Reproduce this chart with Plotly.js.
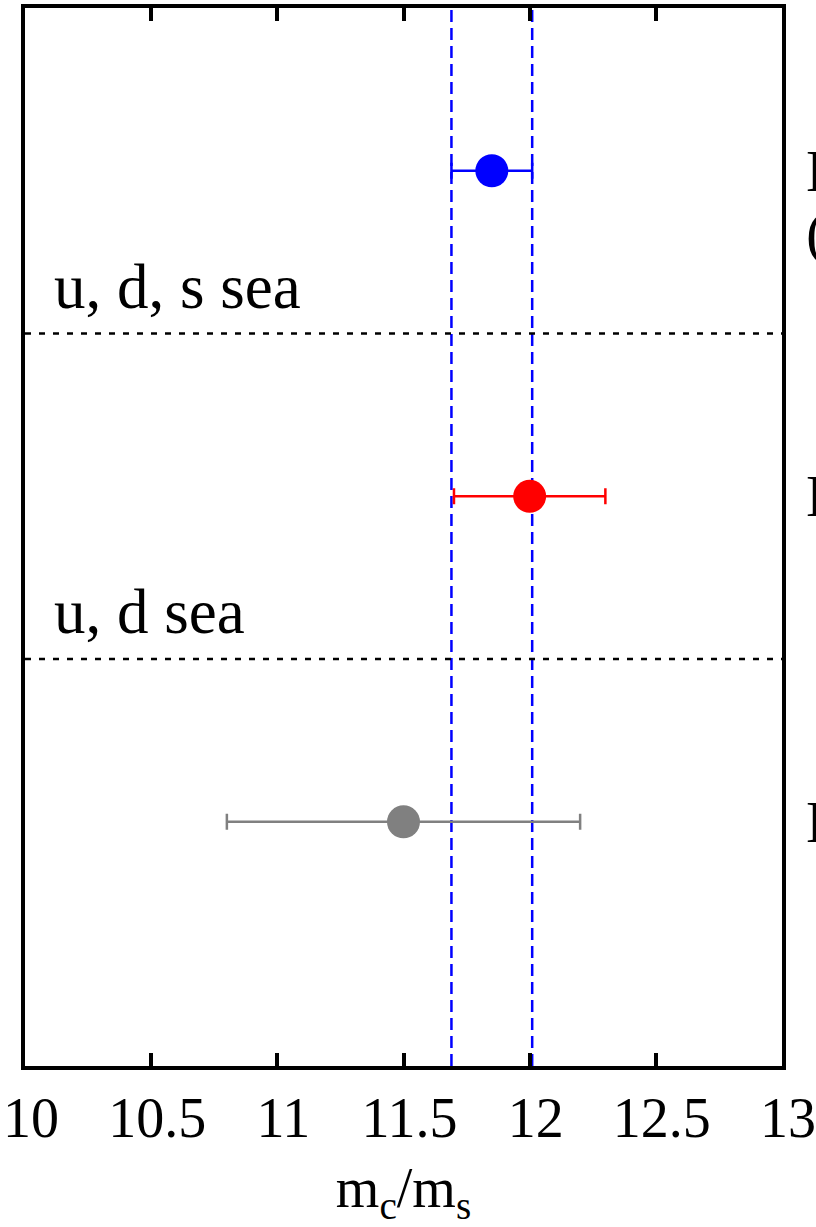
<!DOCTYPE html>
<html>
<head>
<meta charset="utf-8">
<script src="https://cdn.plot.ly/plotly-3.0.1.min.js"></script>
<style>
  html, body { margin: 0; padding: 0; background: #fff; overflow: hidden; }
  #chart { width: 816px; height: 1227px; }
</style>
</head>
<body>
<div id="chart"></div>
<script>
// m_c/m_s determinations, one row each (top to bottom)
const labels    = ["HPQCD", "HPQCD 08", "ETMC 09"];
const subLabels = ["(this paper)", "", ""];
const rows      = [3, 2, 1];
const values    = [11.85, 12.0, 11.5];
const errMinus  = [0.16, 0.30, 0.70];
const errPlus   = [0.16, 0.30, 0.70];
const colors    = ["#0000ff", "#ff0000", "#808080"];

// sea-quark content separators and their captions
const sepRows     = [2.5, 1.5];
const sepCaptions = ["u, d, s sea", "u, d sea"];

// x axis ticks
const tickVals = [10, 10.5, 11, 11.5, 12, 12.5, 13];
const tickText = ["10", "10.5", "11", "11.5", "12", "12.5", "13"];

const xRange = [10, 13];
const yRange = [0.25, 3.5];
const FONT = "Liberation Serif, Times New Roman, serif";

const traces = [];

// band edges of the top result, drawn as dashed verticals
const bandEdges = [values[0] - errMinus[0], values[0] + errPlus[0]];
bandEdges.forEach(v => {
  traces.push({
    x: [v, v], y: yRange, mode: "lines", hoverinfo: "skip", showlegend: false,
    line: {color: "#0000ff", width: 2.5, dash: "12px,6px"}
  });
});

// horizontal dotted separators
sepRows.forEach(r => {
  traces.push({
    x: xRange, y: [r, r], mode: "lines", hoverinfo: "skip", showlegend: false,
    line: {color: "#000000", width: 2.5, dash: "6px,8px"}
  });
});

// points with horizontal error bars
values.forEach((v, i) => {
  traces.push({
    x: [v], y: [rows[i]], mode: "markers", showlegend: false, hoverinfo: "skip",
    marker: {color: colors[i], size: 33, line: {width: 0}},
    error_x: {type: "data", symmetric: false, array: [errPlus[i]], arrayminus: [errMinus[i]],
              color: colors[i], thickness: 2.5, width: 8}
  });
});

const annotations = [];
sepRows.forEach((r, i) => {
  annotations.push({
    x: 10.107, y: r, xref: "x", yref: "y", xanchor: "left", yanchor: "bottom",
    yshift: 10, showarrow: false, text: sepCaptions[i],
    font: {family: FONT, size: 63, color: "#000"}
  });
});
rows.forEach((r, i) => {
  annotations.push({
    x: 1.034, y: r, xref: "paper", yref: "y", xanchor: "left", yanchor: "middle",
    xshift: -4, showarrow: false, text: labels[i],
    font: {family: FONT, size: 60, color: "#000"}
  });
  if (subLabels[i]) {
    annotations.push({
      x: 1.034, y: r, xref: "paper", yref: "y", xanchor: "left", yanchor: "middle",
      xshift: -4, yshift: -62, showarrow: false, text: subLabels[i],
      font: {family: FONT, size: 60, color: "#000"}
    });
  }
});

const layout = {
  width: 816, height: 1227,
  margin: {l: 25, r: 34, t: 8, b: 161},
  paper_bgcolor: "#fff", plot_bgcolor: "#fff",
  showlegend: false,
  xaxis: {
    range: xRange, tickvals: tickVals, ticktext: tickText,
    ticks: "inside", ticklen: 13, tickwidth: 4, tickcolor: "#000",
    showline: true, linewidth: 4, linecolor: "#000", mirror: "ticks",
    showgrid: false, zeroline: false, ticklabelshift: 6,
    tickfont: {family: FONT, size: 56, color: "#000"},
    title: {text: "m<sub>c</sub>/m<sub>s</sub>", standoff: 26,
            font: {family: FONT, size: 56, color: "#000"}}
  },
  yaxis: {
    range: yRange, showticklabels: false, ticks: "",
    showline: true, linewidth: 4, linecolor: "#000", mirror: true,
    showgrid: false, zeroline: false
  },
  annotations: annotations
};

Plotly.newPlot("chart", traces, layout, {staticPlot: true, displayModeBar: false});
</script>
</body>
</html>
